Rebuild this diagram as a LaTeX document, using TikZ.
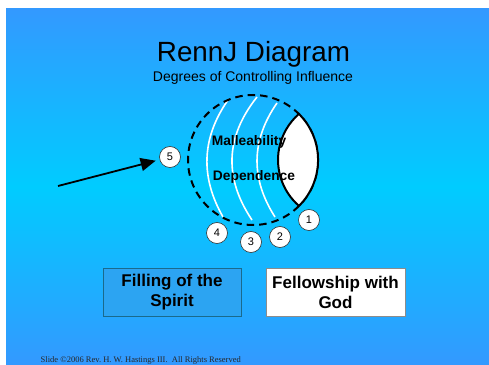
\documentclass[tikz,border=0pt]{standalone}
\usepackage{fontspec}
\setmainfont{Liberation Sans}
\newfontfamily\arialf{Liberation Sans}
\newfontfamily\timesf{Liberation Serif}
\usetikzlibrary{arrows.meta}
\definecolor{bgedge}{HTML}{3399FF}
\definecolor{bgmid}{HTML}{00CCFF}
\definecolor{boxblue}{HTML}{2CA4F2}
\definecolor{boxline}{HTML}{1A6A8C}
\tikzset{
  numnode/.style={circle, draw=black!80, line width=0.6pt, fill=white, minimum size=21pt, inner sep=0pt, font=\arialf\fontsize{11}{13}\selectfont},
  wline/.style={white, line width=1.6pt},
  lbl/.style={font=\arialf\bfseries\fontsize{13.8}{16}\selectfont, inner sep=0pt},
  boxnode/.style={minimum width=138pt, minimum height=48pt, align=center, inner sep=0pt, font=\arialf\bfseries\fontsize{17}{20}\selectfont},
}
\begin{document}
\begin{tikzpicture}[x=1pt,y=1pt]
\useasboundingbox (0,0) rectangle (489,364);
\shade[top color=bgedge, bottom color=bgedge, middle color=bgmid] (6,0) rectangle (489,355);
% white curves
\draw[wline] (228,264) .. controls (200.8,225) and (200.8,186) .. (223,147);
\draw[wline] (257,267) .. controls (224.5,226) and (224.5,185) .. (252,144);
\draw[wline] (277,261) .. controls (250.7,223) and (250.7,185) .. (275,147);
% dashed circle
\draw[black, line width=2pt, dash pattern=on 7.5pt off 5pt] (253,204) circle[radius=65];
% lens
\draw[black, line width=2pt, fill=white, line join=round] (299,250) arc[start angle=45, end angle=-45, radius=65] arc[start angle=229, end angle=131, radius=61] -- cycle;
% labels
\node[lbl] (mall) at (249,222) {Malleability};
\node[lbl] (dep) at (254,187) {Dependence};
% numbers
\node[numnode] (n5) at (170,207) {5};
\node[numnode] (n1) at (309,144) {1};
\node[numnode] (n2) at (280,127) {2};
\node[numnode] (n3) at (251,122) {3};
\node[numnode] (n4) at (217,131) {4};
% arrow
\coordinate (astart) at (58,178);
\draw[black, line width=1.8pt, -{Triangle[length=15pt,width=13pt]}, shorten >=4pt] (astart) -- (n5);
% title
\node[font=\arialf\fontsize{27.8}{32}\selectfont, anchor=base, inner sep=0pt] (title) at (253.5,302.3) {RennJ Diagram};
\node[font=\arialf\fontsize{14}{17}\selectfont, anchor=base, inner sep=0pt] (sub) at (253,282.3) {Degrees of Controlling Influence};
% boxes
\node[boxnode, draw=boxline, fill=boxblue, line width=1pt] (fill) at (172,72) {Filling of the\\Spirit};
\node[boxnode, draw=black!45, fill=white, line width=1pt, minimum width=139pt] (fellow) at (335.5,72) {Fellowship with\\God};
% footer
\node[font=\timesf\fontsize{8.5}{10}\selectfont, anchor=base west, inner sep=0pt, text=black!85] (foot) at (40.5,2) {Slide \textcopyright2006 Rev.\ H. W. Hastings III.\ \ All Rights Reserved};
\end{tikzpicture}
\end{document}
